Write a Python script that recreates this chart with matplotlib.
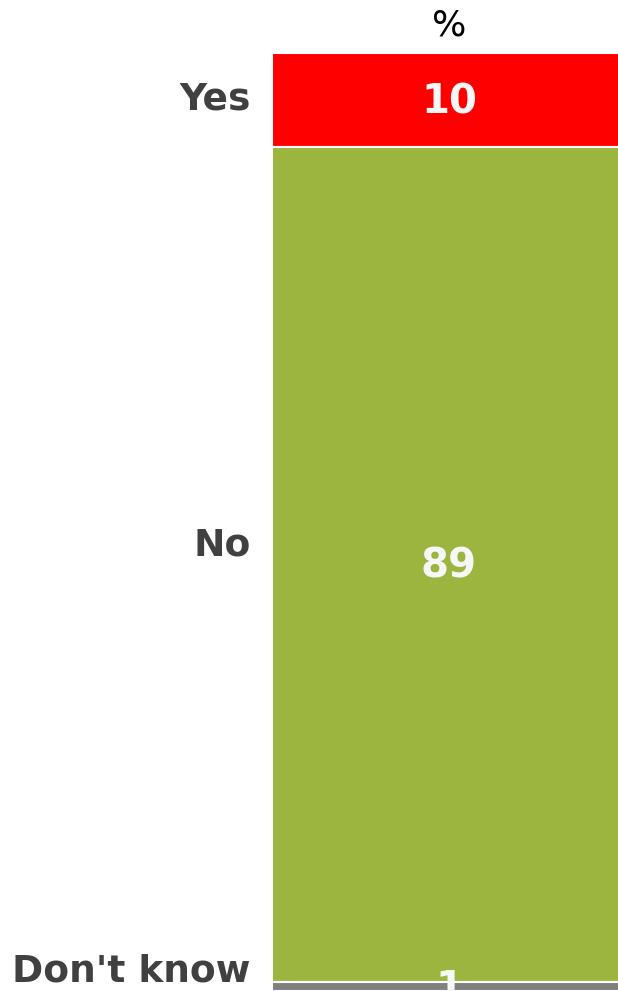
import numpy as np
import matplotlib.pyplot as plt

categories = ['Yes', 'No', "Don't know"]
values = [10, 89, 1]
colors = ['#ff0000', '#9bb53f', '#808080']
label_shift = [0, -2.0, -1.6]   # category labels nudged up a bit, as in the original

fig = plt.figure(figsize=(6.18, 9.91), dpi=100)
ax = fig.add_axes([272/618, 0, 354/618, 1 - 53/991])

starts = np.cumsum([0] + values[:-1])
for cat, v, s, c, sh in zip(categories, values, starts, colors, label_shift):
    ax.bar(0.5, v, width=1.0, bottom=s, color=c, edgecolor='white', linewidth=1.5)
    mid = s + v / 2
    ax.annotate(str(v), (0.5, mid), xytext=(0, -2), textcoords='offset points',
                ha='center', va='center', fontsize=29, fontweight='bold',
                color='#f7f7f7')
    ax.text(-0.06, mid + sh, cat, ha='right', va='center', fontsize=27,
            fontweight='bold', color='#404040', clip_on=False)

ax.set_xlim(0, 1)
ax.set_ylim(100, 0)
ax.axis('off')

fig.text(449/618, 1 - 25/991, '%', ha='center', va='center', fontsize=26, color='black')

plt.savefig('out.png', dpi=100)
